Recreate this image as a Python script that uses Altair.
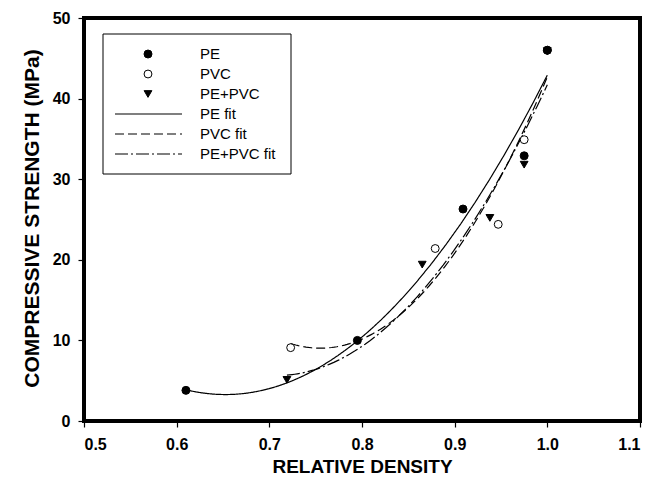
import altair as alt
import pandas as pd

# Measured compressive strength vs. relative density for each foam type
pe_density = [0.61, 0.795, 0.909, 0.975, 1.0]
pe_strength = [3.8, 10.0, 26.3, 32.9, 46.0]

pvc_density = [0.723, 0.879, 0.947, 0.975, 1.0]
pvc_strength = [9.1, 21.4, 24.4, 34.9, 46.0]

mix_density = [0.719, 0.865, 0.938, 0.975, 1.0]
mix_strength = [5.1, 19.4, 25.2, 31.8, 45.9]

x_ticks = [0.5, 0.6, 0.7, 0.8, 0.9, 1.0, 1.1]
y_ticks = [0, 10, 20, 30, 40, 50]

rows = []
for name, xs, ys in [("PVC", pvc_density, pvc_strength),
                     ("PE", pe_density, pe_strength),
                     ("PE+PVC", mix_density, mix_strength)]:
    for xv, yv in zip(xs, ys):
        rows.append({"series": name, "density": xv, "strength": yv})
df = pd.DataFrame(rows)

# Key entries: markers for the measurements, line styles for the fits
legend_order = ["PE", "PVC", "PE+PVC", "PE fit", "PVC fit", "PE+PVC fit"]
shape_range = ["circle", "circle", "triangle-down", "circle", "circle", "circle"]
fill_range = ["black", "white", "black", "white", "white", "white"]
size_range = [64, 55, 80, 60, 60, 60]
dash_range = [[1, 0], [1, 0], [1, 0], [1, 0], [9, 4], [13, 3, 2, 3]]

key_df = pd.DataFrame({"series": legend_order, "row": list(range(len(legend_order)))})

FONT = "Liberation Sans"

shape_scale = alt.Scale(domain=legend_order, range=shape_range)
fill_scale = alt.Scale(domain=legend_order, range=fill_range)
size_scale = alt.Scale(domain=legend_order, range=size_range)
dash_scale = alt.Scale(domain=legend_order, range=dash_range)

x_enc = alt.X(
    "density:Q",
    scale=alt.Scale(domain=[0.5, 1.1], nice=False, zero=False),
    axis=alt.Axis(values=x_ticks, format=".1f", title="RELATIVE DENSITY",
                  titleX=278, titleY=45, titleBaseline="middle"),
)
y_enc = alt.Y(
    "strength:Q",
    scale=alt.Scale(domain=[0, 50], nice=False),
    axis=alt.Axis(values=y_ticks, format="d", title="COMPRESSIVE STRENGTH (MPa)",
                  titleX=-52, titleY=200, titleAngle=-90, titleBaseline="middle",
                  titleAlign="center"),
)

base = alt.Chart(df)

# Second-order polynomial fit for each material
fits = (
    base.transform_regression("density", "strength", method="poly", order=2,
                              groupby=["series"])
    .transform_calculate(series="datum.series + ' fit'")
    .mark_line(color="black", strokeWidth=1.2)
    .encode(
        x=x_enc,
        y=y_enc,
        strokeDash=alt.StrokeDash("series:N", scale=dash_scale, legend=None),
    )
)

points = base.mark_point(stroke="black", strokeWidth=1, opacity=1, fillOpacity=1).encode(
    x=x_enc,
    y=y_enc,
    shape=alt.Shape("series:N", scale=shape_scale, legend=None),
    fill=alt.Fill("series:N", scale=fill_scale, legend=None),
    size=alt.Size("series:N", scale=size_scale, legend=None),
)

# Key box in the upper-left corner of the plot
key_base = alt.Chart(key_df).transform_calculate(ky="36 + datum.row * 20")
key_y = alt.Y("ky:Q", scale=None, axis=None)

key_box = alt.Chart(key_df).transform_filter("datum.row == 0").mark_rect(
    fill="white", stroke="black", strokeWidth=1
).encode(
    x=alt.value(19), x2=alt.value(207), y=alt.value(16), y2=alt.value(156)
)

key_markers = key_base.transform_filter("datum.row < 3").mark_point(
    stroke="black", strokeWidth=1, opacity=1, fillOpacity=1
).encode(
    x=alt.value(64),
    y=key_y,
    shape=alt.Shape("series:N", scale=shape_scale, legend=None),
    fill=alt.Fill("series:N", scale=fill_scale, legend=None),
    size=alt.Size("series:N", scale=size_scale, legend=None),
)

key_lines = key_base.transform_filter("datum.row >= 3").mark_rule(
    color="black", strokeWidth=1.2
).encode(
    x=alt.value(31), x2=alt.value(98),
    y=key_y,
    strokeDash=alt.StrokeDash("series:N", scale=dash_scale, legend=None),
)

key_text = key_base.mark_text(
    align="left", baseline="middle", font=FONT, fontSize=15, color="black"
).encode(
    x=alt.value(116), y=key_y, text="series:N"
)

chart = (
    alt.layer(fits, points, key_box, key_markers, key_lines, key_text)
    .properties(
        width=556, height=403,
        autosize=alt.AutoSizeParams(type="none"),
        padding={"left": 84, "top": 18, "right": 27, "bottom": 60},
        background="white",
    )
    .configure_view(stroke="black", strokeWidth=4)
    .configure_axis(
        domain=False, grid=False,
        ticks=True, tickColor="black", tickWidth=1.2, tickSize=6,
        labelFont=FONT, labelFontSize=16, labelFontWeight="bold", labelColor="black",
        labelPadding=8,
        titleFont=FONT, titleFontWeight="bold", titleColor="black",
    )
    .configure_axisX(labelPadding=9, titleFontSize=19)
    .configure_axisY(titleFontSize=21)
)

chart.save("out.html", embed_options={"renderer": "svg", "actions": False})
